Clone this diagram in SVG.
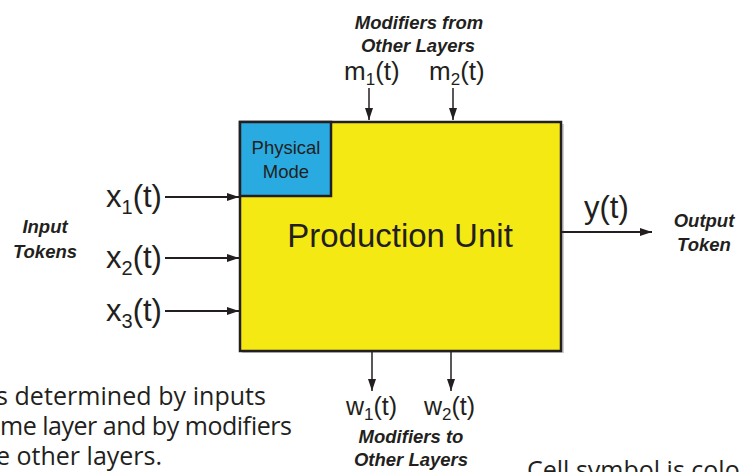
<svg xmlns="http://www.w3.org/2000/svg" width="740" height="472" viewBox="0 0 740 472">
<defs>
<style>
.lbl{font-family:"Liberation Sans",Arial,sans-serif;fill:#231f20}
.bi{font-family:"Liberation Sans",Arial,sans-serif;font-weight:bold;font-style:italic;font-size:18.5px;fill:#231f20;text-anchor:middle}
.note{font-family:"Open Sans","Noto Sans",sans-serif;font-size:25px;fill:#231f20}
.con{stroke:#231f20;fill:none}
</style>
<marker id="ah" viewBox="0 0 12 8" refX="12" refY="4" markerWidth="12" markerHeight="8" markerUnits="userSpaceOnUse" orient="auto">
<path d="M0,0 L12,4 L0,8 Z" fill="#231f20"/>
</marker>
</defs>
<rect width="740" height="472" fill="#ffffff"/>
<g id="unit">
<rect x="242" y="124" width="322" height="229" fill="#a0a0a0" opacity="0.5"/>
<rect x="240" y="122" width="321" height="229" fill="#f5e914" stroke="#231f20" stroke-width="2.5"/>
<text class="lbl" x="400" y="247" font-size="33" text-anchor="middle">Production Unit</text>
</g>
<g id="physical-mode">
<rect x="240" y="122" width="91" height="74" fill="#29abe2" stroke="#231f20" stroke-width="2.5"/>
<text class="lbl" x="286" y="154" font-size="18.5" text-anchor="middle">Physical</text>
<text class="lbl" x="286" y="178" font-size="18.5" text-anchor="middle">Mode</text>
</g>
<g id="connectors">
<line class="con" x1="165" y1="197" x2="239" y2="197" stroke-width="2" marker-end="url(#ah)"/>
<line class="con" x1="165" y1="258" x2="239" y2="258" stroke-width="2" marker-end="url(#ah)"/>
<line class="con" x1="165" y1="311" x2="239" y2="311" stroke-width="2" marker-end="url(#ah)"/>
<line class="con" x1="369" y1="88" x2="369" y2="120" stroke-width="1.5" marker-end="url(#ah)"/>
<line class="con" x1="453" y1="88" x2="453" y2="120" stroke-width="1.5" marker-end="url(#ah)"/>
<line class="con" x1="372" y1="352" x2="372" y2="391" stroke-width="1.5" marker-end="url(#ah)"/>
<line class="con" x1="451" y1="352" x2="451" y2="391" stroke-width="1.5" marker-end="url(#ah)"/>
<line class="con" x1="562" y1="232" x2="652" y2="232" stroke-width="2" marker-end="url(#ah)"/>
</g>
<g id="inputs">
<text class="lbl" x="106" y="207" font-size="31">x<tspan font-size="20" dy="7">1</tspan><tspan dy="-7">(t)</tspan></text>
<text class="lbl" x="106" y="268" font-size="31">x<tspan font-size="20" dy="7">2</tspan><tspan dy="-7">(t)</tspan></text>
<text class="lbl" x="106" y="321" font-size="31">x<tspan font-size="20" dy="7">3</tspan><tspan dy="-7">(t)</tspan></text>
<text class="bi" x="45" y="233">Input</text>
<text class="bi" x="45" y="258">Tokens</text>
</g>
<g id="modifiers-in">
<text class="bi" x="419" y="29">Modifiers from</text>
<text class="bi" x="418" y="52">Other Layers</text>
<text class="lbl" x="344" y="80" font-size="26">m<tspan font-size="17" dy="5">1</tspan><tspan dy="-5">(t)</tspan></text>
<text class="lbl" x="429" y="80" font-size="26">m<tspan font-size="17" dy="5">2</tspan><tspan dy="-5">(t)</tspan></text>
</g>
<g id="modifiers-out">
<text class="lbl" x="346" y="415" font-size="25">w<tspan font-size="17" dy="5">1</tspan><tspan dy="-5">(t)</tspan></text>
<text class="lbl" x="424" y="415" font-size="25">w<tspan font-size="17" dy="5">2</tspan><tspan dy="-5">(t)</tspan></text>
<text class="bi" x="411" y="443">Modifiers to</text>
<text class="bi" x="411" y="466">Other Layers</text>
</g>
<g id="output">
<text class="lbl" x="584" y="218" font-size="31">y(t)</text>
<text class="bi" x="704" y="227">Output</text>
<text class="bi" x="704" y="251">Token</text>
</g>
<g id="notes">
<text class="note" x="-4" y="405" textLength="270">s determined by inputs</text>
<text class="note" x="0" y="435" textLength="292">me layer and by modifiers</text>
<text class="note" x="-4" y="465">e other layers.</text>
<text class="note" x="527" y="479">Cell symbol is colou</text>
</g>
</svg>
